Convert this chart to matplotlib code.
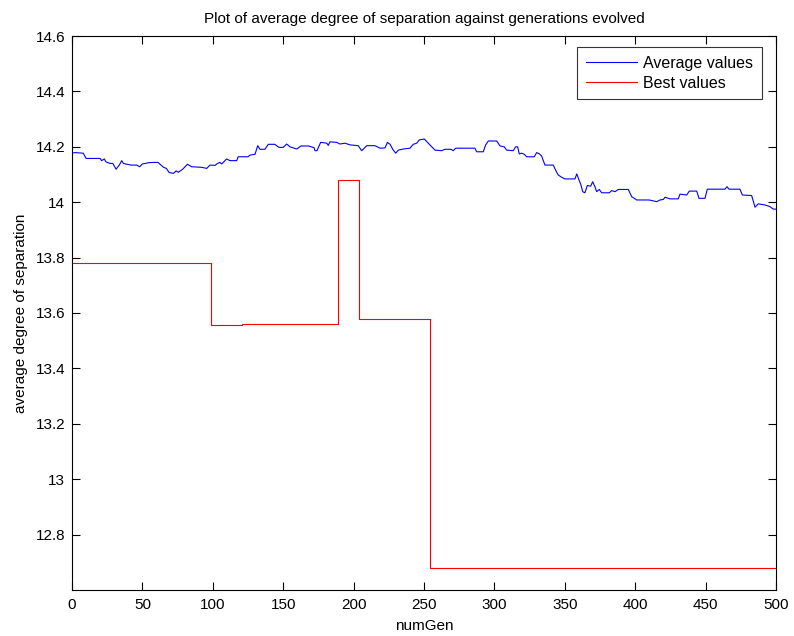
import matplotlib
matplotlib.use("Agg")
import matplotlib.pyplot as plt
from matplotlib.ticker import FuncFormatter

plt.rcParams['font.family'] = ['Liberation Sans', 'DejaVu Sans']

# Average values
avg_gen = [0, 2, 8, 10, 20, 21, 23, 24, 27, 29, 31.3, 33.6, 35.3, 36.5, 39, 42, 46, 48, 50, 55, 61,
           65, 67, 69, 72, 74, 75.5, 78.6, 82, 85, 92, 95.7, 98, 101.6, 102.8, 105, 106.3, 109.8,
           112.2, 117, 118, 125, 126.4, 130, 131.9, 133.5, 137, 139.4, 144, 147, 150, 152.5, 154.8,
           159.6, 162.6, 168, 171.9, 172.6, 174, 176.6, 181, 182, 183.2, 188, 190.3, 193.9, 197.4,
           203.3, 205.7, 207, 209.3, 215.2, 218.8, 222.3, 224, 225.9, 227.8, 229.9, 231.8, 235.3,
           240, 242.4, 244.8, 246.7, 250.2, 253, 255.5, 257.8, 262.6, 264.9, 269.2, 270.8, 272.5,
           286.2, 287.4, 292.1, 293.8, 295.7, 301.6, 304, 307, 308.7, 313.4, 315.1, 316.5, 317.7,
           319.4, 321.2, 322.9, 328.3, 330, 331.9, 333.6, 335.9, 341.8, 344.2, 345.4, 347.8, 350.1,
           357.2, 358.5, 360.1, 361.3, 362.7, 364.3, 366, 368.4, 369.8, 371.4, 372.6, 374.5, 376.2,
           381.6, 383.3, 385.7, 388, 395.1, 397.5, 401.1, 410, 415.3, 417.6, 420, 421.2, 424.7,
           430.6, 431.8, 436.6, 438.4, 443.7, 445.3, 449.6, 451.2, 463.8, 465.2, 466.6, 474.4,
           476.1, 482.7, 485.1, 487.4, 492.2, 495.7, 498.1, 500]
avg_val = [14.177, 14.179, 14.177, 14.158, 14.158, 14.150, 14.156, 14.146, 14.140, 14.140, 14.119,
           14.134, 14.150, 14.140, 14.137, 14.134, 14.134, 14.128, 14.138, 14.143, 14.144,
           14.126, 14.122, 14.107, 14.104, 14.113, 14.108, 14.119, 14.137, 14.128, 14.126, 14.122,
           14.134, 14.133, 14.138, 14.144, 14.138, 14.156, 14.150, 14.150, 14.164, 14.164, 14.170,
           14.173, 14.204, 14.191, 14.191, 14.209, 14.209, 14.198, 14.198, 14.210, 14.200, 14.192,
           14.203, 14.203, 14.197, 14.186, 14.186, 14.216, 14.213, 14.205, 14.218, 14.216, 14.210,
           14.213, 14.207, 14.204, 14.186, 14.192, 14.204, 14.204, 14.195, 14.196, 14.216, 14.209,
           14.191, 14.177, 14.188, 14.192, 14.195, 14.209, 14.213, 14.225, 14.228, 14.213, 14.200,
           14.188, 14.186, 14.191, 14.191, 14.186, 14.195, 14.195, 14.182, 14.182, 14.207, 14.221,
           14.221, 14.203, 14.200, 14.188, 14.186, 14.200, 14.200, 14.174, 14.177, 14.173, 14.164,
           14.164, 14.179, 14.175, 14.166, 14.134, 14.134, 14.108, 14.098, 14.090, 14.084, 14.084,
           14.102, 14.080, 14.065, 14.038, 14.034, 14.060, 14.058, 14.074, 14.056, 14.038, 14.046,
           14.034, 14.034, 14.042, 14.038, 14.046, 14.046, 14.020, 14.008, 14.008, 14.002, 14.008,
           14.010, 14.018, 14.012, 14.012, 14.029, 14.026, 14.040, 14.040, 14.014, 14.014, 14.047,
           14.047, 14.056, 14.047, 14.047, 14.026, 14.024, 13.982, 13.994, 13.990, 13.984, 13.975,
           13.975]

# Best values (step changes)
best_gen = [0, 99, 121, 189, 204, 254, 500]
best_val = [13.78, 13.555, 13.56, 14.08, 13.577, 12.68, 12.68]

xticks = [0, 50, 100, 150, 200, 250, 300, 350, 400, 450, 500]
yticks = [12.8, 13.0, 13.2, 13.4, 13.6, 13.8, 14.0, 14.2, 14.4, 14.6]

W, H = 794, 636
fig = plt.figure(figsize=(W / 100, H / 100), dpi=100)
ax = fig.add_axes([72 / W, 1 - 590 / H, (776 - 72) / W, (590 - 36) / H])

ax.plot(avg_gen, avg_val, color='#0000ff', lw=0.8, label='Average values')
ax.step(best_gen, best_val, where='post', color='#ff0000', lw=0.8, label='Best values')

ax.set_xlim(0, 500)
ax.set_ylim(12.6, 14.6)
ax.set_xticks(xticks)
ax.set_yticks(yticks)
ax.yaxis.set_major_formatter(FuncFormatter(lambda v, p: '%g' % round(v, 4)))
ax.tick_params(direction='in', top=True, right=True, length=6, width=0.8, labelsize=11)
ax.tick_params(axis='x', pad=6)
ax.tick_params(axis='y', pad=5)
for s in ax.spines.values():
    s.set_linewidth(0.8)

ax.set_title('Plot of average degree of separation against generations evolved', fontsize=11, pad=9)
ax.set_xlabel('numGen', fontsize=11, labelpad=5)
ax.set_ylabel('average degree of separation', fontsize=11, labelpad=5)

leg = ax.legend(loc='upper right', bbox_to_anchor=(762 / W, 1 - 47 / H),
                bbox_transform=fig.transFigure, borderaxespad=0,
                fontsize=11.5, frameon=True, fancybox=False, edgecolor='black',
                handlelength=3.2, handletextpad=0.4, labelspacing=0.3, borderpad=0.55)
leg.get_frame().set_linewidth(0.8)

fig.savefig('out.png', dpi=100)
